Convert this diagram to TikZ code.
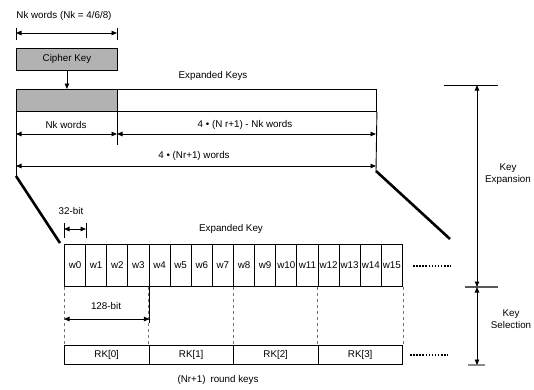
\documentclass[tikz,border=0pt]{standalone}
\usepackage{fontspec}
\setmainfont{Liberation Sans}
\usetikzlibrary{arrows.meta,positioning}

\begin{document}
\begin{tikzpicture}[x=1pt, y=-1pt, line width=0.9pt,
  >={Triangle[length=5.5pt,width=4.5pt]},
  every node/.style={font=\fontsize{9.8}{12}\selectfont, inner sep=0pt},
  keybox/.style={draw, minimum height=22pt, anchor=north west},
  shaded/.style={fill=black!30},
  wcell/.style={draw, minimum width=21.125pt, minimum height=42pt, anchor=north west},
  rkcell/.style={draw, minimum width=84.5pt, minimum height=19pt, anchor=north west},
  dim/.style={<->},
  guide/.style={line width=0.5pt, black!55, dashed},
  bar/.style={line width=2.6pt},
  dotrow/.style={line width=1.5pt, dash pattern=on 1.5pt off 1.6pt},
  tick/.style={line width=0.6pt}]
  \useasboundingbox (0,0) rectangle (534,389);

  % cipher key and expanded keys
  \node[anchor=west] (nklabel) at (16,16) {Nk words (Nk = 4/6/8)};
  \node[keybox, shaded, minimum width=101pt] (cipher) at (16,48) {Cipher Key};
  \node (explabel) at (213,76) {Expanded Keys};
  \node[keybox, minimum width=360pt] (exp) at (16,89) {};
  \node[keybox, shaded, minimum width=101pt] (expnk) at (16,89) {};
  \draw[->] (cipher.south) -- (expnk.north);

  \coordinate (nkA) at (16,33);
  \coordinate (nkB) at (117,33);
  \draw[tick] ([yshift=5pt]nkA) -- ([yshift=-7pt]nkA);
  \draw[tick] ([yshift=5pt]nkB) -- ([yshift=-7pt]nkB);
  \draw[dim] (nkA) -- (nkB);

  \coordinate (dl1) at (16,176);
  \coordinate (dl2) at (60,243);
  \coordinate (dr1) at (376,171);
  \coordinate (dr2) at (450,239);
  \draw (exp.south west) -- (dl1);
  \draw (exp.south east) -- (dr1);
  \draw (expnk.south east) -- ++(0,33) coordinate (nkC);

  \node (nkwords) at (66,125) {Nk words};
  \node (restwords) at (245,125) {4 • (N r+1) - Nk words};
  \node (allwords) at (194,156) {4 • (Nr+1) words};
  \coordinate (r1) at (16,134);
  \coordinate (r2) at (117,134);
  \coordinate (r3) at (376,134);
  \draw[dim] (r1) -- (r2);
  \draw[dim] (r2) -- (r3);
  \coordinate (a1) at (16,166);
  \coordinate (a2) at (376,166);
  \draw[dim] (a1) -- (a2);

  \draw[bar] (dl1) -- (dl2);
  \draw[bar] (dr1) -- (dr2);

  % expanded key words
  \foreach \i in {0,...,15}
    \node[wcell] (w\i) at ({64+21.125*\i},244) {w\i};
  \node (wlabel) at (231,229) {Expanded Key};
  \coordinate (wdots1) at (413,266);
  \coordinate (wdots2) at (451,266);
  \draw[dotrow] (wdots1) -- (wdots2);

  \node (bitlabel) at (71,211) {32-bit};
  \coordinate (b1) at ([yshift=15pt]w0.north west);
  \coordinate (b2) at ([yshift=15pt]w0.north east);
  \draw[tick] ([yshift=6pt]b1) -- ([yshift=-9pt]b1);
  \draw[tick] ([yshift=6pt]b2) -- ([yshift=-9pt]b2);
  \draw[dim] (b1) -- (b2);

  % round keys
  \foreach \i in {0,...,3}
    \node[rkcell] (rk\i) at ({64+84.5*\i},345) {RK[\i]};
  \foreach \i in {0,...,3}
    \draw[guide] (rk\i.north west |- w0.south) -- (rk\i.north west);
  \draw[guide] (rk3.north east |- w0.south) -- (rk3.north east);
  \coordinate (k1) at (w0.south west |- 0,319);
  \coordinate (k2) at (w3.south east |- 0,319);
  \draw (w3.south east) -- ([yshift=-4pt]k2);
  \draw[dim] (k1) -- (k2);
  \node (blocklabel) at (106,306) {128-bit};
  \coordinate (rkdots1) at (410,355);
  \coordinate (rkdots2) at (448,355);
  \draw[dotrow] (rkdots1) -- (rkdots2);
  \node (rklabel) at (218,380) {(Nr+1)\enspace round keys};

  % key expansion and selection
  \coordinate (ktop) at (477,85);
  \coordinate (kmid) at (477,287);
  \coordinate (kbot) at (477,365);
  \draw[tick] ([xshift=-33pt]ktop) -- ([xshift=21pt]ktop);
  \draw[line width=1.4pt, black!65] ([xshift=-12pt]kmid) -- ([xshift=21pt]kmid);
  \draw[line width=1.2pt, black!45] ([xshift=-9pt]kbot) -- ([xshift=8pt]kbot);
  \draw[dim] (ktop) -- (kmid);
  \draw[dim] (kmid) -- (kbot);
  \node[align=center] (explab) at (508,174) {Key\\Expansion};
  \node[align=center] (sellab) at (511,319) {Key\\Selection};
\end{tikzpicture}
\end{document}
